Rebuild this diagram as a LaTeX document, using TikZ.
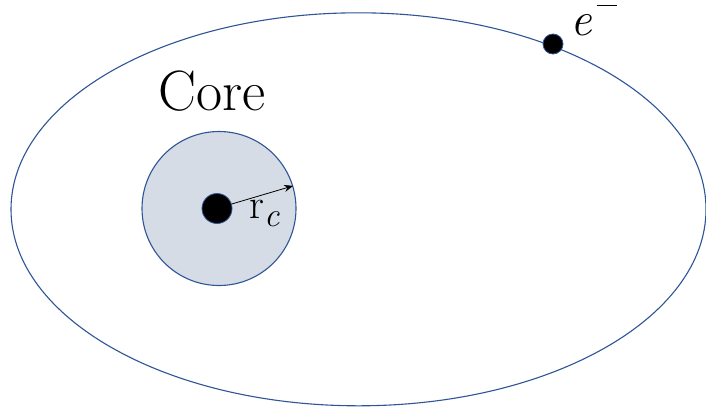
\documentclass[tikz,border=0pt]{standalone}
\usepackage{fontspec}
\usetikzlibrary{arrows.meta}
\definecolor{orbitblue}{HTML}{2F5597}
\definecolor{corefill}{HTML}{D6DCE5}
\begin{document}
\begin{tikzpicture}[x=1bp,y=-1bp,
  orbit/.style={draw=orbitblue,line width=1.1bp},
  particle/.style={circle,fill=black,draw=orbitblue,line width=0.8bp,inner sep=0pt},
  lbl/.style={inner sep=0pt,font=\fontsize{57}{64}\selectfont}]
\useasboundingbox (0,0) rectangle (706,409);
\fill[white] (0,0) rectangle (706,409);
\draw[orbit] (358.5,209.3) ellipse [x radius=347.5, y radius=196.5];
\node[circle,orbit,fill=corefill,minimum size=154bp,inner sep=0pt] (core) at (219,208.5) {};
\node[particle,minimum size=30bp] (nuc) at (217,208.5) {};
\draw[-{Stealth[length=9bp,width=7bp]},line width=0.8bp] (nuc.17) -- (core.17);
\node[lbl,font=\fontsize{42}{48}\selectfont,anchor=base west] (rc) at (249,218) {r\raisebox{-0.2em}{\fontsize{34}{38}\selectfont\itshape c}};
\node[lbl] (corelbl) at (212,91) {Core};
\node[particle,minimum size=20bp] (el) at (553,44) {};
\node[lbl,font=\fontsize{48}{56}\selectfont,anchor=base west] (elbl) at (570,35) {\itshape e\hspace{0.1em}\raisebox{0.6em}{\rule{0.42em}{1.4bp}}};
\end{tikzpicture}
\end{document}
